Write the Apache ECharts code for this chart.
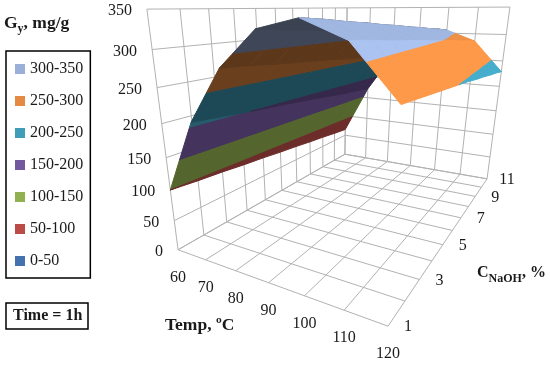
<!DOCTYPE html>
<html><head><meta charset="utf-8">
<style>html,body{margin:0;padding:0;background:#fff}#c{width:550px;height:367px}</style>
<script src="https://cdn.jsdelivr.net/npm/echarts@6/dist/echarts.min.js"></script>
</head><body><div id="c"></div>
<script>
// ---- data ----
var temps = [60, 70, 80, 90, 100, 110, 120];
var concs = [1, 2, 3, 4, 5, 6, 7, 8, 9, 10, 11];
var concLabels = [1, 3, 5, 7, 9, 11];
var gTicks = [0, 50, 100, 150, 200, 250, 300, 350];
var g60  = [100, 96, 93, 89, 86, 82, 79, 75, 72, 68, 65];
var g70  = [209, 205, 201, 197, 194, 190, 186, 182, 178, 175, 171];
var g80  = [283, 280, 276, 273, 270, 267, 263, 260, 257, 253, 250];
var g90  = [329, 326, 323, 320, 317, 314, 310, 307, 304, 301, 298];
var g100 = [341, 338, 334, 331, 327, 324, 320, 317, 313, 310, 306];
var g110 = [320, 317, 313, 310, 307, 303, 300, 297, 293, 290, 286];
var g120 = [262, 259, 256, 253, 250, 247, 243, 240, 236, 233, 229];
var bandNames = ['300-350', '250-300', '200-250', '150-200', '100-150', '50-100', '0-50'];
var bandLow   = [300, 250, 200, 150, 100, 50, 0];
var bandHigh  = [350, 300, 250, 200, 150, 100, 50];
var bandColors = ['#9ab0d9', '#e58a42', '#3f9db8', '#7358a0', '#91b050', '#bb4b47', '#4472ae'];
var facetShade = [0.58, 0.46, 0.40, 0.38, 1.04, 1.11];   // per temperature strip

var rows = [g60, g70, g80, g90, g100, g110, g120];

// ---- 3D view: fit a projective camera to the box corners ----
var anchors = [ // [T, C, G, px, py]
  [60, 1, 0, 178, 250], [120, 1, 0, 388, 326], [120, 11, 0, 487, 179], [60, 11, 0, 345, 154],
  [60, 1, 350, 147, 9], [60, 11, 350, 347, 8], [120, 11, 350, 510, 7]
];
function nrm(T, C, G) { return [(T - 60) / 60, (C - 1) / 10, G / 350]; }
function solveCamera() {
  var n = 11, A = [], b = [], i, j, k;
  for (i = 0; i < n; i++) { A.push(new Array(n).fill(0)); b.push(0); }
  function add(r, y) {
    for (var p = 0; p < n; p++) { b[p] += r[p] * y; for (var q = 0; q < n; q++) A[p][q] += r[p] * r[q]; }
  }
  anchors.forEach(function (a) {
    var u = nrm(a[0], a[1], a[2]), x = a[3], y = a[4];
    add([u[0], u[1], u[2], 1, 0, 0, 0, 0, -x * u[0], -x * u[1], -x * u[2]], x);
    add([0, 0, 0, 0, u[0], u[1], u[2], 1, -y * u[0], -y * u[1], -y * u[2]], y);
  });
  for (i = 0; i < n; i++) {
    var m = i;
    for (j = i + 1; j < n; j++) if (Math.abs(A[j][i]) > Math.abs(A[m][i])) m = j;
    var t = A[i]; A[i] = A[m]; A[m] = t; t = b[i]; b[i] = b[m]; b[m] = t;
    for (j = i + 1; j < n; j++) {
      var f = A[j][i] / A[i][i];
      for (k = i; k < n; k++) A[j][k] -= f * A[i][k];
      b[j] -= f * b[i];
    }
  }
  var s = new Array(n);
  for (i = n - 1; i >= 0; i--) {
    var v = b[i];
    for (k = i + 1; k < n; k++) v -= A[i][k] * s[k];
    s[i] = v / A[i][i];
  }
  return s;
}
var cam = solveCamera();
function project(T, C, G) {
  var u = nrm(T, C, G);
  var w = cam[8] * u[0] + cam[9] * u[1] + cam[10] * u[2] + 1;
  return [(cam[0] * u[0] + cam[1] * u[1] + cam[2] * u[2] + cam[3]) / w,
          (cam[4] * u[0] + cam[5] * u[1] + cam[6] * u[2] + cam[7]) / w];
}

// ---- clip one surface cell to a value band ----
function clip(poly, limit, keepAbove) {
  var out = [];
  for (var i = 0; i < poly.length; i++) {
    var a = poly[i], b = poly[(i + 1) % poly.length];
    var ia = keepAbove ? a[2] >= limit : a[2] <= limit;
    var ib = keepAbove ? b[2] >= limit : b[2] <= limit;
    if (ia) out.push(a);
    if (ia !== ib) {
      var f = (limit - a[2]) / (b[2] - a[2]);
      out.push([a[0] + f * (b[0] - a[0]), a[1] + f * (b[1] - a[1]), limit]);
    }
  }
  return out;
}
function tint(hex, k) {
  var n = parseInt(hex.slice(1), 16);
  var c = [(n >> 16) & 255, (n >> 8) & 255, n & 255].map(function (v) { return Math.min(255, Math.round(v * k)); });
  return 'rgb(' + c.join(',') + ')';
}
var cells = [];
temps.slice(0, -1).forEach(function (_, i) {
  concs.slice(0, -1).forEach(function (_, j) { cells.push([i, j]); });
});

function bandSeries(b) {
  return {
    type: 'custom', name: bandNames[b], coordinateSystem: 'cartesian2d', clip: false, silent: true,
    itemStyle: { color: bandColors[b] }, data: cells,
    renderItem: function (params, api) {
      var i = api.value(0), j = api.value(1);
      var q = [[temps[i], concs[j], rows[i][j]], [temps[i + 1], concs[j], rows[i + 1][j]],
               [temps[i + 1], concs[j + 1], rows[i + 1][j + 1]], [temps[i], concs[j + 1], rows[i][j + 1]]];
      q = clip(clip(q, bandLow[b], true), bandHigh[b], false);
      if (q.length < 3) return null;
      var col = tint(bandColors[b], facetShade[i]);
      return {
        type: 'polygon', z2: 20 + i,
        shape: { points: q.map(function (p) { return api.coord(project(p[0], p[1], p[2])); }) },
        style: { fill: col, stroke: col, lineWidth: 1, lineJoin: 'round' }
      };
    }
  };
}

// ---- box grid lines ----
var T0 = temps[0], T1 = temps[temps.length - 1], C0 = concs[0], C1 = concs[concs.length - 1], Gm = gTicks[gTicks.length - 1];
var segments = [];
temps.forEach(function (t) {
  segments.push([t, C0, 0, t, C1, 0]);      // floor
  segments.push([t, C1, 0, t, C1, Gm]);     // back wall verticals
});
concs.forEach(function (c) {
  segments.push([T0, c, 0, T1, c, 0]);      // floor
  segments.push([T0, c, 0, T0, c, Gm]);     // side wall verticals
});
gTicks.forEach(function (g) {
  segments.push([T0, C0, g, T0, C1, g]);    // side wall
  segments.push([T0, C1, g, T1, C1, g]);    // back wall
});
var gridSeries = {
  type: 'custom', coordinateSystem: 'cartesian2d', clip: false, silent: true, data: segments,
  renderItem: function (params, api) {
    var a = api.coord(project(api.value(0), api.value(1), api.value(2)));
    var b = api.coord(project(api.value(3), api.value(4), api.value(5)));
    return { type: 'line', z2: 1, shape: { x1: a[0], y1: a[1], x2: b[0], y2: b[1] },
      style: { stroke: '#b2b2b2', lineWidth: 1 } };
  }
};

// ---- tick labels ----
var tickFont = '16px "Liberation Serif"';
var ticks = [];
gTicks.forEach(function (g) { ticks.push({ p: [T0, C0, g], t: String(g), dx: -15, dy: 2, a: 'right' }); });
temps.forEach(function (t) { ticks.push({ p: [t, C0, 0], t: String(t), dx: 0, dy: 28, a: 'center' }); });
concLabels.forEach(function (c) { ticks.push({ p: [T1, c, 0], t: String(c), dx: 20, dy: 1, a: 'center' }); });
var tickSeries = {
  type: 'custom', coordinateSystem: 'cartesian2d', clip: false, silent: true,
  data: ticks.map(function (_, i) { return [i, 0]; }),
  renderItem: function (params, api) {
    var k = ticks[params.dataIndex], c = api.coord(project(k.p[0], k.p[1], k.p[2]));
    return { type: 'text', z2: 50, x: c[0] + k.dx, y: c[1] + k.dy,
      style: { text: k.t, font: tickFont, fill: '#1a1a1a', align: k.a, verticalAlign: 'middle' } };
  }
};

var series = bandNames.map(function (_, b) { return bandSeries(b); });
series.unshift(gridSeries);
series.push(tickSeries);

var boldFont = 'bold 17.5px "Liberation Serif"';
var subRich = {
  b: { font: 'bold 16px "Liberation Serif"', fill: '#1a1a1a', verticalAlign: 'bottom', padding: [0, 0, 4, 0] },
  s: { font: 'bold 12px "Liberation Serif"', fill: '#1a1a1a', verticalAlign: 'bottom' }
};
var yRich = {
  b: { font: boldFont, fill: '#1a1a1a', verticalAlign: 'bottom', padding: [0, 0, 3, 0] },
  s: { font: 'bold 12px "Liberation Serif"', fill: '#1a1a1a', verticalAlign: 'bottom' }
};

var chart = echarts.init(document.getElementById('c'), null, { renderer: 'canvas' });
chart.setOption({
  animation: false,
  backgroundColor: '#fff',
  grid: { left: 0, right: 0, top: 0, bottom: 0 },
  xAxis: { type: 'value', min: 0, max: 550, show: false },
  yAxis: { type: 'value', min: 0, max: 367, inverse: true, show: false },
  legend: {
    left: 6, top: 51, orient: 'vertical', icon: 'rect', itemWidth: 10, itemHeight: 10, itemGap: 14,
    padding: [9, 7, 8, 9], borderColor: '#000', borderWidth: 1.5, data: bandNames,
    selectedMode: false,
    textStyle: { fontFamily: 'Liberation Serif', fontSize: 16, color: '#1a1a1a', lineHeight: 18 }
  },
  title: {
    text: 'Time = 1h', left: 6, top: 303, padding: [5, 6, 5, 7], borderColor: '#000', borderWidth: 1.5,
    textStyle: { fontFamily: 'Liberation Serif', fontWeight: 'bold', fontSize: 16, color: '#1a1a1a' }
  },
  graphic: [
    { type: 'text', left: 4, top: 14, style: { text: '{b|G}{s|y}{b|, mg/g}', rich: yRich } },
    { type: 'text', left: 165, top: 316, style: { text: 'Temp, ºC', font: boldFont, fill: '#1a1a1a' } },
    { type: 'text', left: 477, top: 265, style: { text: '{b|C}{s|NaOH}{b|, %}', rich: subRich } }
  ],
  series: series
});
</script></body></html>
